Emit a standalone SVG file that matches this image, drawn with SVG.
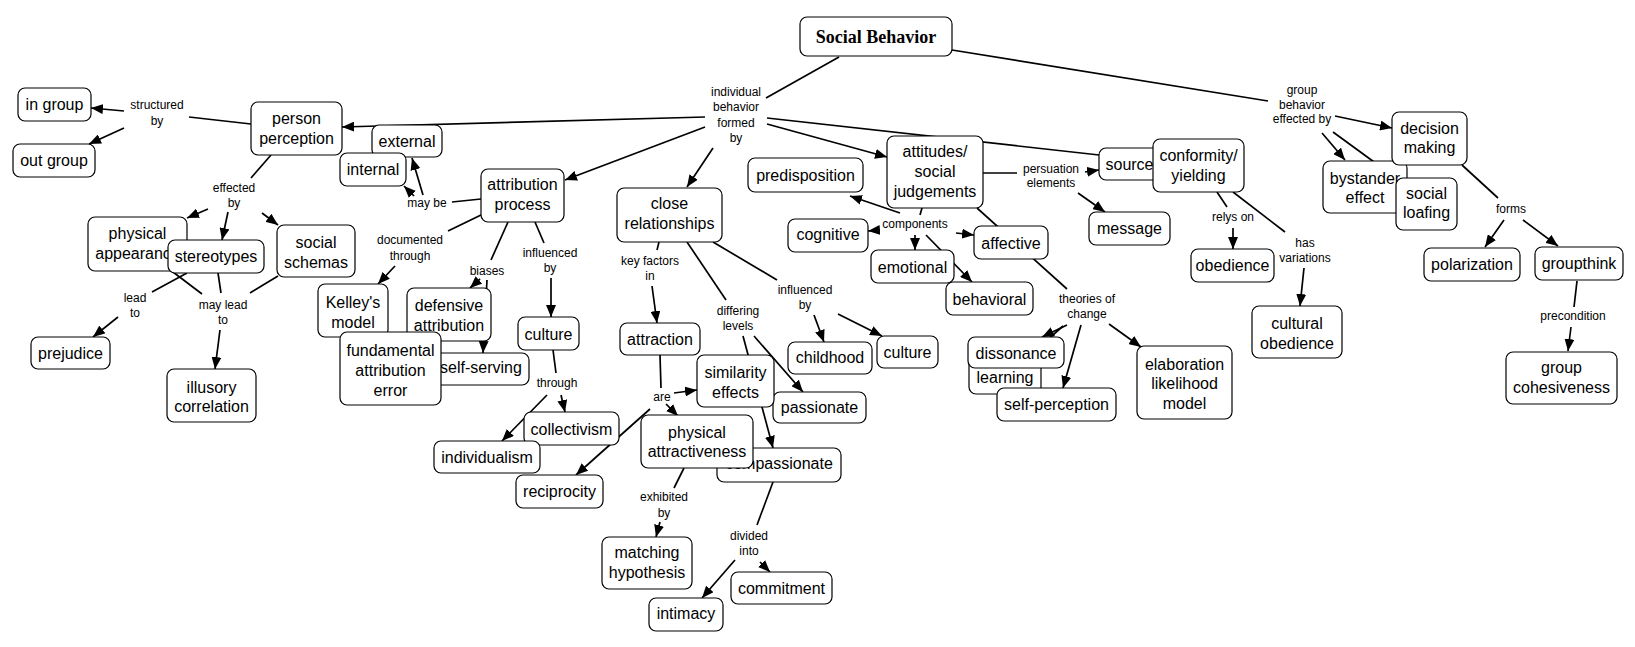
<svg xmlns="http://www.w3.org/2000/svg" width="1635" height="647" viewBox="0 0 1635 647">
<style>
.n rect{fill:#fff;stroke:#000;stroke-width:1.2}
.n text{font-family:"Liberation Sans",Arial,sans-serif;font-size:16px;text-anchor:middle;fill:#000}
.l text{font-family:"Liberation Sans",Arial,sans-serif;font-size:12px;text-anchor:middle;fill:#000}
.c line{stroke:#000;stroke-width:1.7}
.c line.a{marker-end:url(#ah)}
.t text{font-family:"Liberation Serif","Times New Roman",serif;font-size:18px;font-weight:bold}
</style>
<defs>
<marker id="ah" viewBox="0 0 12 10" refX="12" refY="5" markerWidth="12" markerHeight="10" markerUnits="userSpaceOnUse" orient="auto">
<path d="M0,0 L12,5 L0,10 z" fill="#000"/>
</marker>
</defs>
<rect width="1635" height="647" fill="#fff"/>
<g id="connectors" class="c">
<line x1="839" y1="57" x2="766" y2="98"/>
<line class="a" x1="705" y1="117" x2="342" y2="127"/>
<line class="a" x1="705" y1="127" x2="565" y2="180"/>
<line class="a" x1="713" y1="148" x2="687" y2="187"/>
<line class="a" x1="767" y1="124" x2="887" y2="157"/>
<line class="a" x1="767" y1="118" x2="1153" y2="161"/>
<line x1="952" y1="50" x2="1268" y2="101"/>
<line class="a" x1="1335" y1="116" x2="1392" y2="128"/>
<line class="a" x1="1322" y1="133" x2="1345" y2="160"/>
<line class="a" x1="1333" y1="132" x2="1396" y2="178"/>
<line x1="1462" y1="165" x2="1498" y2="198"/>
<line class="a" x1="1504" y1="220" x2="1485" y2="247"/>
<line class="a" x1="1523" y1="220" x2="1558" y2="246"/>
<line x1="1577" y1="281" x2="1574" y2="307"/>
<line class="a" x1="1571" y1="327" x2="1568" y2="351"/>
<line x1="1217" y1="192" x2="1227" y2="207"/>
<line class="a" x1="1233" y1="228" x2="1233" y2="249"/>
<line x1="1233" y1="192" x2="1285" y2="232"/>
<line class="a" x1="1304" y1="268" x2="1300" y2="306"/>
<line x1="983" y1="173" x2="1017" y2="173"/>
<line class="a" x1="1085" y1="172" x2="1099" y2="170"/>
<line class="a" x1="1078" y1="193" x2="1105" y2="212"/>
<line x1="922" y1="208" x2="920" y2="215"/>
<line class="a" x1="900" y1="213" x2="850" y2="196"/>
<line class="a" x1="880" y1="230" x2="868" y2="231"/>
<line class="a" x1="915" y1="235" x2="915" y2="250"/>
<line class="a" x1="926" y1="235" x2="972" y2="282"/>
<line class="a" x1="956" y1="233" x2="974" y2="235"/>
<line x1="977" y1="208" x2="1067" y2="289"/>
<line class="a" x1="1067" y1="325" x2="1042" y2="337"/>
<line class="a" x1="1063" y1="326" x2="1025" y2="360"/>
<line class="a" x1="1081" y1="325" x2="1063" y2="388"/>
<line class="a" x1="1109" y1="324" x2="1141" y2="347"/>
<line x1="251" y1="124" x2="189" y2="117"/>
<line class="a" x1="124" y1="111" x2="91" y2="108"/>
<line class="a" x1="124" y1="128" x2="89" y2="144"/>
<line x1="271" y1="155" x2="251" y2="178"/>
<line class="a" x1="208" y1="209" x2="187" y2="218"/>
<line class="a" x1="228" y1="212" x2="222" y2="240"/>
<line class="a" x1="262" y1="213" x2="278" y2="225"/>
<line x1="187" y1="273" x2="152" y2="292"/>
<line class="a" x1="118" y1="317" x2="93" y2="337"/>
<line x1="173" y1="272" x2="202" y2="294"/>
<line x1="218" y1="273" x2="221" y2="293"/>
<line x1="278" y1="276" x2="250" y2="293"/>
<line class="a" x1="220" y1="330" x2="215" y2="369"/>
<line x1="481" y1="199" x2="452" y2="202"/>
<line class="a" x1="423" y1="195" x2="412" y2="158"/>
<line class="a" x1="414" y1="196" x2="404" y2="186"/>
<line x1="481" y1="215" x2="448" y2="231"/>
<line class="a" x1="395" y1="266" x2="378" y2="284"/>
<line x1="508" y1="222" x2="491" y2="260"/>
<line class="a" x1="480" y1="279" x2="470" y2="288"/>
<line class="a" x1="487" y1="280" x2="483" y2="353"/>
<line x1="535" y1="222" x2="544" y2="243"/>
<line class="a" x1="551" y1="278" x2="551" y2="317"/>
<line x1="553" y1="350" x2="556" y2="373"/>
<line class="a" x1="561" y1="395" x2="565" y2="412"/>
<line class="a" x1="547" y1="395" x2="502" y2="441"/>
<line x1="659" y1="242" x2="657" y2="250"/>
<line class="a" x1="652" y1="286" x2="657" y2="323"/>
<line x1="660" y1="355" x2="661" y2="388"/>
<line class="a" x1="674" y1="393" x2="697" y2="390"/>
<line class="a" x1="650" y1="409" x2="576" y2="475"/>
<line class="a" x1="666" y1="404" x2="678" y2="416"/>
<line x1="687" y1="242" x2="726" y2="300"/>
<line class="a" x1="754" y1="336" x2="803" y2="392"/>
<line class="a" x1="743" y1="336" x2="773" y2="448"/>
<line x1="713" y1="242" x2="777" y2="280"/>
<line class="a" x1="814" y1="315" x2="824" y2="342"/>
<line class="a" x1="838" y1="314" x2="882" y2="336"/>
<line x1="684" y1="468" x2="674" y2="488"/>
<line class="a" x1="660" y1="522" x2="656" y2="537"/>
<line x1="773" y1="482" x2="757" y2="525"/>
<line class="a" x1="735" y1="560" x2="702" y2="598"/>
<line class="a" x1="760" y1="562" x2="770" y2="572"/>
</g>
<g id="l-structured" class="l"><text x="157" y="109">structured</text><text x="157" y="125">by</text></g>
<g id="l-effected" class="l"><text x="234" y="192">effected</text><text x="234" y="207">by</text></g>
<g id="l-individual" class="l"><text x="736" y="96">individual</text><text x="736" y="111">behavior</text><text x="736" y="127">formed</text><text x="736" y="142">by</text></g>
<g id="l-maybe" class="l"><text x="427" y="207">may be</text></g>
<g id="l-documented" class="l"><text x="410" y="244">documented</text><text x="410" y="260">through</text></g>
<g id="l-biases" class="l"><text x="487" y="275">biases</text></g>
<g id="l-influenced1" class="l"><text x="550" y="257">influenced</text><text x="550" y="272">by</text></g>
<g id="l-through" class="l"><text x="557" y="387">through</text></g>
<g id="l-keyfactors" class="l"><text x="650" y="265">key factors</text><text x="650" y="280">in</text></g>
<g id="l-are" class="l"><text x="662" y="401">are</text></g>
<g id="l-differing" class="l"><text x="738" y="315">differing</text><text x="738" y="330">levels</text></g>
<g id="l-influenced2" class="l"><text x="805" y="294">influenced</text><text x="805" y="309">by</text></g>
<g id="l-exhibited" class="l"><text x="664" y="501">exhibited</text><text x="664" y="517">by</text></g>
<g id="l-divided" class="l"><text x="749" y="540">divided</text><text x="749" y="555">into</text></g>
<g id="l-components" class="l"><text x="915" y="228">components</text></g>
<g id="l-persuation" class="l"><text x="1051" y="173">persuation</text><text x="1051" y="187">elements</text></g>
<g id="l-theories" class="l"><text x="1087" y="303">theories of</text><text x="1087" y="318">change</text></g>
<g id="l-relys" class="l"><text x="1233" y="221">relys on</text></g>
<g id="l-hasvar" class="l"><text x="1305" y="247">has</text><text x="1305" y="262">variations</text></g>
<g id="l-group" class="l"><text x="1302" y="94">group</text><text x="1302" y="109">behavior</text><text x="1302" y="123">effected by</text></g>
<g id="l-forms" class="l"><text x="1511" y="213">forms</text></g>
<g id="l-precondition" class="l"><text x="1573" y="320">precondition</text></g>
<g id="l-leadto" class="l"><text x="135" y="302">lead</text><text x="135" y="317">to</text></g>
<g id="l-mayleadto" class="l"><text x="223" y="309">may lead</text><text x="223" y="324">to</text></g>
<g id="n-social-behavior" class="n t"><rect x="800" y="17" width="152" height="39" rx="7"/><text x="876" y="42.5">Social Behavior</text></g>
<g id="n-in-group" class="n"><rect x="18" y="88" width="73" height="33" rx="7"/><text x="54.5" y="110">in group</text></g>
<g id="n-out-group" class="n"><rect x="13" y="144" width="82" height="33" rx="7"/><text x="54" y="166">out group</text></g>
<g id="n-person-perception" class="n"><rect x="251" y="102" width="91" height="53" rx="7"/><text x="296.5" y="123.5">person</text><text x="296.5" y="143.5">perception</text></g>
<g id="n-external" class="n"><rect x="372" y="125" width="70" height="32" rx="7"/><text x="407" y="146.5">external</text></g>
<g id="n-internal" class="n"><rect x="340" y="153" width="66" height="33" rx="7"/><text x="373" y="175">internal</text></g>
<g id="n-attribution-process" class="n"><rect x="481" y="169" width="83" height="53" rx="7"/><text x="522.5" y="190">attribution</text><text x="522.5" y="210">process</text></g>
<g id="n-close-relationships" class="n"><rect x="617" y="188" width="105" height="54" rx="7"/><text x="669.5" y="208.5">close</text><text x="669.5" y="228.5">relationships</text></g>
<g id="n-predisposition" class="n"><rect x="748" y="158" width="115" height="34" rx="7"/><text x="805.5" y="180.5">predisposition</text></g>
<g id="n-attitudes" class="n"><rect x="887" y="136" width="96" height="72" rx="7"/><text x="935" y="157">attitudes/</text><text x="935" y="177">social</text><text x="935" y="196.5">judgements</text></g>
<g id="n-source" class="n"><rect x="1099" y="148" width="61" height="32" rx="7"/><text x="1129.5" y="169.5">source</text></g>
<g id="n-conformity" class="n"><rect x="1153" y="139" width="91" height="53" rx="7"/><text x="1198.5" y="160.5">conformity/</text><text x="1198.5" y="180.5">yielding</text></g>
<g id="n-message" class="n"><rect x="1089" y="212" width="81" height="33" rx="7"/><text x="1129.5" y="234">message</text></g>
<g id="n-bystander" class="n"><rect x="1323" y="161" width="84" height="52" rx="7"/><text x="1365" y="183.5">bystander</text><text x="1365" y="203">effect</text></g>
<g id="n-decision-making" class="n"><rect x="1392" y="112" width="75" height="53" rx="7"/><text x="1429.5" y="133.5">decision</text><text x="1429.5" y="153">making</text></g>
<g id="n-social-loafing" class="n"><rect x="1396" y="178" width="61" height="52" rx="7"/><text x="1426.5" y="198.5">social</text><text x="1426.5" y="217.5">loafing</text></g>
<g id="n-obedience" class="n"><rect x="1191" y="249" width="83" height="33" rx="7"/><text x="1232.5" y="271">obedience</text></g>
<g id="n-cultural-obedience" class="n"><rect x="1252" y="306" width="90" height="52" rx="7"/><text x="1297" y="328.5">cultural</text><text x="1297" y="348.5">obedience</text></g>
<g id="n-polarization" class="n"><rect x="1424" y="248" width="96" height="33" rx="7"/><text x="1472" y="270">polarization</text></g>
<g id="n-groupthink" class="n"><rect x="1535" y="247" width="88" height="33" rx="7"/><text x="1579" y="269">groupthink</text></g>
<g id="n-group-cohesiveness" class="n"><rect x="1506" y="352" width="111" height="52" rx="7"/><text x="1561.5" y="372.5">group</text><text x="1561.5" y="392.5">cohesiveness</text></g>
<g id="n-physical-appearance" class="n"><rect x="88" y="217" width="99" height="54" rx="7"/><text x="137.5" y="238.5">physical</text><text x="137.5" y="258.5">appearance</text></g>
<g id="n-stereotypes" class="n"><rect x="168" y="240" width="96" height="33" rx="7"/><text x="216" y="262">stereotypes</text></g>
<g id="n-social-schemas" class="n"><rect x="277" y="225" width="78" height="52" rx="7"/><text x="316" y="247.5">social</text><text x="316" y="267.5">schemas</text></g>
<g id="n-prejudice" class="n"><rect x="31" y="337" width="79" height="32" rx="7"/><text x="70.5" y="358.5">prejudice</text></g>
<g id="n-illusory-correlation" class="n"><rect x="167" y="369" width="89" height="53" rx="7"/><text x="211.5" y="392.5">illusory</text><text x="211.5" y="411.5">correlation</text></g>
<g id="n-kelleys-model" class="n"><rect x="318" y="284" width="70" height="53" rx="7"/><text x="353" y="307.5">Kelley's</text><text x="353" y="327.5">model</text></g>
<g id="n-defensive-attribution" class="n"><rect x="407" y="288" width="84" height="53" rx="7"/><text x="449" y="310.5">defensive</text><text x="449" y="330.5">attribution</text></g>
<g id="n-self-serving" class="n"><rect x="433" y="353" width="96" height="32" rx="7"/><text x="481" y="373">self-serving</text></g>
<g id="n-fundamental" class="n"><rect x="340" y="332" width="101" height="73" rx="7"/><text x="390.5" y="355.5">fundamental</text><text x="390.5" y="375.5">attribution</text><text x="390.5" y="395.5">error</text></g>
<g id="n-culture-1" class="n"><rect x="518" y="317" width="61" height="33" rx="7"/><text x="548.5" y="340">culture</text></g>
<g id="n-collectivism" class="n"><rect x="524" y="412" width="95" height="33" rx="7"/><text x="571.5" y="434.5">collectivism</text></g>
<g id="n-individualism" class="n"><rect x="434" y="441" width="106" height="32" rx="7"/><text x="487" y="462.5">individualism</text></g>
<g id="n-reciprocity" class="n"><rect x="516" y="475" width="87" height="33" rx="7"/><text x="559.5" y="496.5">reciprocity</text></g>
<g id="n-attraction" class="n"><rect x="620" y="323" width="80" height="32" rx="7"/><text x="660" y="344.5">attraction</text></g>
<g id="n-passionate" class="n"><rect x="773" y="392" width="93" height="31" rx="7"/><text x="819.5" y="412.5">passionate</text></g>
<g id="n-similarity-effects" class="n"><rect x="697" y="355" width="77" height="52" rx="7"/><text x="735.5" y="377.5">similarity</text><text x="735.5" y="397.5">effects</text></g>
<g id="n-compassionate" class="n"><rect x="717" y="448" width="124" height="34" rx="7"/><text x="779" y="468.5">compassionate</text></g>
<g id="n-physical-attractiveness" class="n"><rect x="641" y="415" width="112" height="53" rx="7"/><text x="697" y="437.5">physical</text><text x="697" y="456.5">attractiveness</text></g>
<g id="n-matching-hypothesis" class="n"><rect x="602" y="537" width="90" height="52" rx="7"/><text x="647" y="557.5">matching</text><text x="647" y="577.5">hypothesis</text></g>
<g id="n-intimacy" class="n"><rect x="649" y="598" width="74" height="33" rx="7"/><text x="686" y="618.5">intimacy</text></g>
<g id="n-commitment" class="n"><rect x="731" y="572" width="101" height="32" rx="7"/><text x="781.5" y="593.5">commitment</text></g>
<g id="n-childhood" class="n"><rect x="788" y="342" width="84" height="32" rx="7"/><text x="830" y="362.5">childhood</text></g>
<g id="n-culture-2" class="n"><rect x="877" y="336" width="61" height="32" rx="7"/><text x="907.5" y="357.5">culture</text></g>
<g id="n-cognitive" class="n"><rect x="788" y="219" width="80" height="33" rx="7"/><text x="828" y="239.5">cognitive</text></g>
<g id="n-emotional" class="n"><rect x="871" y="250" width="83" height="33" rx="7"/><text x="912.5" y="272.5">emotional</text></g>
<g id="n-affective" class="n"><rect x="974" y="226" width="74" height="33" rx="7"/><text x="1011" y="248.5">affective</text></g>
<g id="n-behavioral" class="n"><rect x="946" y="282" width="87" height="33" rx="7"/><text x="989.5" y="304.5">behavioral</text></g>
<g id="n-learning" class="n"><rect x="969" y="355" width="72" height="39" rx="7"/><text x="1005" y="382.5">learning</text></g>
<g id="n-dissonance" class="n"><rect x="968" y="337" width="96" height="31" rx="7"/><text x="1016" y="358.5">dissonance</text></g>
<g id="n-self-perception" class="n"><rect x="997" y="388" width="119" height="33" rx="7"/><text x="1056.5" y="409.5">self-perception</text></g>
<g id="n-elaboration" class="n"><rect x="1137" y="346" width="95" height="73" rx="7"/><text x="1184.5" y="369.5">elaboration</text><text x="1184.5" y="389">likelihood</text><text x="1184.5" y="408.5">model</text></g>
</svg>
